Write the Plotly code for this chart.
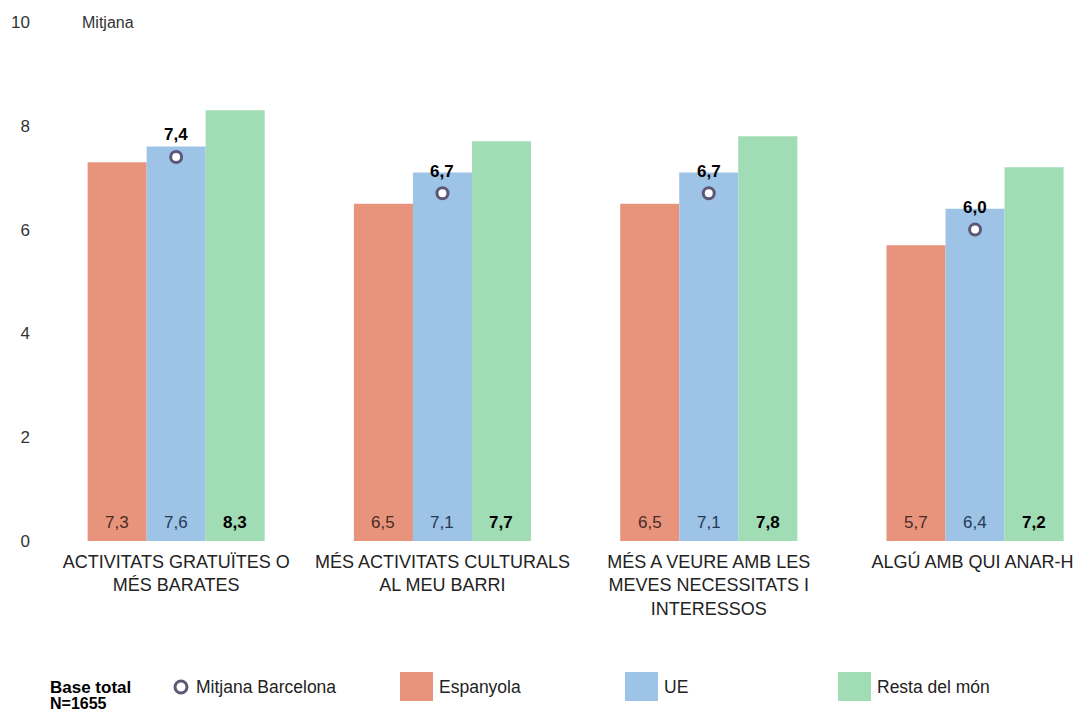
import plotly.graph_objects as go

categories = [
    "ACTIVITATS GRATUÏTES O<br>MÉS BARATES",
    "MÉS ACTIVITATS CULTURALS<br>AL MEU BARRI",
    "MÉS A VEURE AMB LES<br>MEVES NECESSITATS I<br>INTERESSOS",
    "ALGÚ AMB QUI ANAR-HI",
]
espanyola = [7.3, 6.5, 6.5, 5.7]
ue = [7.6, 7.1, 7.1, 6.4]
resta = [8.3, 7.7, 7.8, 7.2]
barcelona = [7.4, 6.7, 6.7, 6.0]

series_names = ["Espanyola", "UE", "Resta del món"]
colour = ["#e8947c", "#9dc3e6", "#a0dcb4"]
label_colour = ["#4a2c25", "#243a56", "#000000"]
mean_colour = "#5c5677"
font = "Liberation Sans, Arial, sans-serif"

# the page body has an 8px margin, so the figure is drawn 8px in from the corner
OFF = 8
W, H = 1081 - OFF, 714 - OFF
L, T, B = 43, 22, 541  # plot area in page pixels


def fmt(v):
    return f"{v:.1f}".replace(".", ",")


def px_x(p):
    return (p - L) / (1081 - L)


def px_y(p):
    return (B - p) / (B - T)


fig = go.Figure()
for name, vals, col in zip(series_names, [espanyola, ue, resta], colour):
    fig.add_trace(go.Bar(x=categories, y=vals, name=name, marker_color=col,
                         marker_line_width=0, showlegend=False))

fig.add_trace(go.Scatter(
    x=categories, y=barcelona, mode="markers", name="Mitjana Barcelona",
    marker=dict(symbol="circle", size=11, color="white",
                line=dict(color=mean_colour, width=3)),
    showlegend=False,
))

annotations = []
# values at the foot of each bar
for i, (vals, lc) in enumerate(zip([espanyola, ue, resta], label_colour)):
    for c, v in zip(categories, vals):
        txt = fmt(v) if i < 2 else f"<b>{fmt(v)}</b>"
        annotations.append(dict(x=c, y=0, xref="x", yref="y", text=txt,
                                showarrow=False, xshift=(i - 1) * 59, yshift=19,
                                font=dict(size=17, color=lc, family=font)))
# Barcelona mean labels
for c, v in zip(categories, barcelona):
    annotations.append(dict(x=c, y=v, xref="x", yref="y", text=f"<b>{fmt(v)}</b>",
                            showarrow=False, yshift=22,
                            font=dict(size=17, color="#000000", family=font)))

annotations.append(dict(x=px_x(80), y=10, xref="paper", yref="y", text="Mitjana",
                        xanchor="left", yanchor="middle", showarrow=False,
                        font=dict(size=16, color="#333333", family=font)))

# legend row
leg_y = 687
annotations.append(dict(x=px_x(48), y=px_y(687), xref="paper", yref="paper",
                        text="<b>Base total</b>", xanchor="left", yanchor="middle",
                        showarrow=False,
                        font=dict(size=17, color="#000000", family=font)))
annotations.append(dict(x=px_x(48), y=px_y(703), xref="paper", yref="paper",
                        text="<b>N=1655</b>", xanchor="left", yanchor="middle",
                        showarrow=False,
                        font=dict(size=16, color="#000000", family=font)))
shapes = [dict(type="circle", xref="paper", yref="paper",
               x0=px_x(175), x1=px_x(187), y0=px_y(leg_y + 6), y1=px_y(leg_y - 6),
               line=dict(color=mean_colour, width=3), fillcolor="white")]
annotations.append(dict(x=px_x(194), y=px_y(leg_y), xref="paper", yref="paper",
                        text="Mitjana Barcelona", xanchor="left", yanchor="middle",
                        showarrow=False,
                        font=dict(size=17.5, color="#222222", family=font)))
for name, col, x0 in zip(series_names, colour, [400, 625, 838]):
    shapes.append(dict(type="rect", xref="paper", yref="paper",
                       x0=px_x(x0), x1=px_x(x0 + 33), y0=px_y(701), y1=px_y(672),
                       line_width=0, fillcolor=col))
    annotations.append(dict(x=px_x(x0 + 37), y=px_y(leg_y), xref="paper", yref="paper",
                            text=name, xanchor="left", yanchor="middle", showarrow=False,
                            font=dict(size=17.5, color="#222222", family=font)))

fig.update_layout(
    width=W, height=H,
    margin=dict(l=L - OFF, r=0, t=T - OFF, b=714 - B),
    barmode="group", bargap=0.335, bargroupgap=0,
    plot_bgcolor="white", paper_bgcolor="white",
    font=dict(family=font, color="#333333"),
    xaxis=dict(range=[-0.5, -0.5 + (1081 - L) / 266.3], showgrid=False, zeroline=False,
               showline=False, ticks="", ticklabelstandoff=8,
               tickfont=dict(size=18, color="#222222")),
    yaxis=dict(range=[0, 10], tickvals=[0, 2, 4, 6, 8, 10], showgrid=False,
               zeroline=False, showline=False, ticks="", ticklabelstandoff=12,
               tickfont=dict(size=17, color="#333333")),
    annotations=annotations,
    shapes=shapes,
)

fig.write_html("out.html")
